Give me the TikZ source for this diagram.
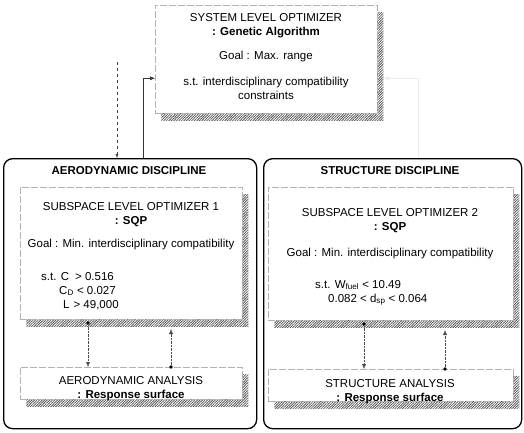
\documentclass[tikz,border=0pt]{standalone}
\usepackage{fontspec}
\setmainfont{Liberation Sans}
\usetikzlibrary{patterns.meta,arrows.meta,positioning}

\tikzset{
  every node/.style={font=\fontsize{11.5}{14}\selectfont},
  txt/.style={align=center,inner sep=0pt},
  head/.style={txt,font=\fontsize{11.5}{14}\selectfont\bfseries},
  panel/.style={draw=gray!60,line width=.6pt,dash pattern=on 7pt off 2pt,fill=white,
    anchor=north west,inner sep=0pt,
    preaction={draw=none,pattern={Lines[angle=45,distance=1.8pt,line width=.8pt]},
      pattern color=gray!70!black,transform canvas={shift={(6pt,-7pt)}}}},
  discipline/.style={draw,line width=1.3pt,rounded corners=9pt,anchor=north west,inner sep=0pt},
  link/.style={densely dotted,gray!60!black,-{Latex[length=5pt,width=4pt]}},
  dot/.style={circle,fill=black,inner sep=1.4pt}
}

\begin{document}
\begin{tikzpicture}[x=1pt,y=-1pt]
\useasboundingbox (0,0) rectangle (524,432);

\node[panel,minimum width=222pt,minimum height=108pt] (sysopt) at (155,5) {};
\node[txt] (systitle) at (266,26) {SYSTEM LEVEL OPTIMIZER\\\textbf{: Genetic Algorithm}};
\node[txt] (sysgoal) at (266,57) {Goal : Max. range};
\node[txt] (syscons) at (266,88) {s.t. interdisciplinary compatibility\\constraints};

\node[discipline,minimum width=253pt,minimum height=270pt] (aero) at (3,158) {};
\node[head] (aerotitle) at (129,171) {AERODYNAMIC DISCIPLINE};
\node[panel,minimum width=222pt,minimum height=132pt] (aeroopt) at (20,187) {};
\node[txt] (aerosub) at (131,215) {SUBSPACE LEVEL OPTIMIZER 1\\\textbf{: SQP}};
\node[txt] (aerogoal) at (131,245) {Goal : Min. interdisciplinary compatibility};
\node[txt,anchor=base west] (aerocl) at (41,280) {s.t. C\hspace{6pt}> 0.516};
\node[txt,anchor=base west] (aerocd) at (59,294) {C\textsubscript{D} < 0.027};
\node[txt,anchor=base west] (aerol) at (63,308) {L\hspace{4pt}> 49,000};
\node[panel,minimum width=222pt,minimum height=32pt] (aeroana) at (20,367) {};
\node[txt] (aeroanatxt) at (131,389) {AERODYNAMIC ANALYSIS\\\textbf{: Response surface}};

\node[discipline,minimum width=258pt,minimum height=270pt] (struct) at (263,158) {};
\node[head] (structtitle) at (390,171) {STRUCTURE DISCIPLINE};
\node[panel,minimum width=245pt,minimum height=133pt] (structopt) at (268,187) {};
\node[txt] (structsub) at (390,221) {SUBSPACE LEVEL OPTIMIZER 2\\\textbf{: SQP}};
\node[txt] (structgoal) at (390,254) {Goal : Min. interdisciplinary compatibility};
\node[txt,anchor=base west] (structw) at (315,288) {s.t. W\textsubscript{fuel} < 10.49};
\node[txt,anchor=base west] (structd) at (328,302) {0.082 < d\textsubscript{sp} < 0.064};
\node[panel,minimum width=245pt,minimum height=32pt] (structana) at (268,369) {};
\node[txt] (structanatxt) at (390,392) {STRUCTURE ANALYSIS\\\textbf{: Response surface}};

\node[dot] (aerodown) at (88,323) {};
\node[dot] (aeroback) at (171,367) {};
\coordinate (aerotip) at (171,329);
\draw[link] (aerodown) -- (aerodown |- aeroana.north);
\draw[link] (aeroback) -- (aerotip);
\node[dot] (structdown) at (364,324) {};
\node[dot] (structback) at (445,369) {};
\coordinate (structtip) at (445,330);
\draw[link] (structdown) -- (structdown |- structana.north);
\draw[link] (structback) -- (structtip);

\coordinate (aerotarget) at (117,62);
\coordinate (aeroreply) at (143,158);
\coordinate (structreply) at (418,158);
\draw[dashed,gray!50!black,-{Latex[length=4pt,width=3pt]}] (aerotarget) -- (aerotarget |- aero.north);
\draw[gray!40!black,-{Latex[length=5pt,width=4pt]}] (aeroreply) |- ([yshift=-19pt]sysopt.west);
\draw[gray!15,-{Latex[length=5pt,width=4pt]}] (structreply) |- ([xshift=6pt,yshift=-19pt]sysopt.east);
\end{tikzpicture}
\end{document}
